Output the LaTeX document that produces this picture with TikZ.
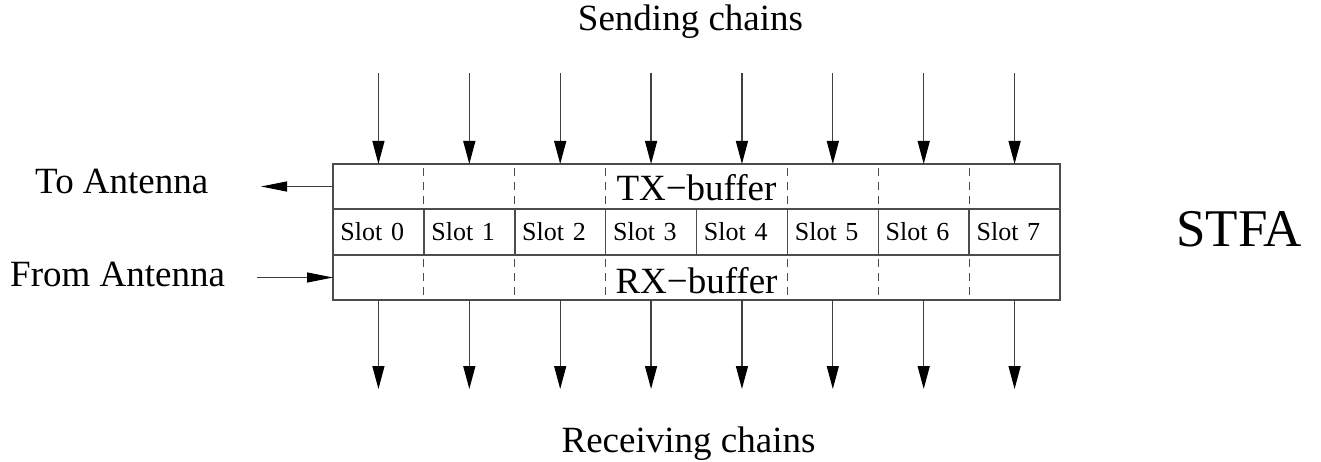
\documentclass[tikz,border=0pt]{standalone}
\usepackage{fontspec}
\setmainfont{Liberation Serif}
\usetikzlibrary{arrows.meta}
\begin{document}
\begin{tikzpicture}[x=1pt,y=-1pt,
  boxline/.style={draw=black!70,line width=1.5pt},
  cell/.style={boxline,minimum width=90.875pt,minimum height=45pt,inner sep=0pt,outer sep=0pt},
  slotcell/.style={cell,text width=76pt,align=left,inner xsep=7pt,font=\fontsize{26}{28}\selectfont},
  dashline/.style={draw=black!70,line width=1.2pt,dash pattern=on 8pt off 6pt,dash phase=-4pt},
  chain/.style={draw=black!75,line width=1.3pt,-{Triangle[length=23pt,width=12pt,black]}},
  ant/.style={draw=black!75,line width=1.3pt,-{Triangle[length=26pt,width=10pt,black]}},
  lbl/.style={inner sep=0pt,font=\fontsize{37}{40}\selectfont}]
\useasboundingbox (0,0) rectangle (1321,462);
% buffers
\node[cell,minimum width=727pt] (tx) at (696.5,186.5) {};
\node[cell,minimum width=727pt] (rx) at (696.5,277.5) {};
\foreach \i in {0,...,7}{
  \node[slotcell] (slot\i) at ({333+90.875*(\i+0.5)},232) {Slot \i};
}
% dashed separators
\foreach \i in {1,2,3,5,6,7}{
  \draw[dashline] (slot\i.west |- tx.north) -- (slot\i.west |- tx.south);
  \draw[dashline] (slot\i.west |- rx.north) -- (slot\i.west |- rx.south);
}
\node[lbl,anchor=base] (txt) at (696.5,201) {TX−buffer};
\node[lbl,anchor=base] (rxt) at (696.5,293) {RX−buffer};
% chains
\foreach \i in {0,...,7}{
  \coordinate (in\i) at ({333+90.875*(\i+0.5)},73);
  \coordinate (out\i) at ({333+90.875*(\i+0.5)},389);
  \draw[chain] (in\i) -- (in\i |- tx.north);
  \draw[chain] (out\i |- rx.south) -- (out\i);
}
% antenna
\coordinate (toant) at (261,186.5);
\coordinate (fromant) at (257,277.5);
\draw[ant] (tx.west) -- (toant);
\draw[ant] (fromant) -- (rx.west);
% labels
\node[lbl,anchor=base west] (tolbl) at (35,194) {To Antenna};
\node[lbl,anchor=base west] (fromlbl) at (10,286) {From Antenna};
\node[lbl,anchor=base] (send) at (690.5,31) {Sending chains};
\node[lbl,anchor=base] (recv) at (688.5,452) {Receiving chains};
\node[inner sep=0pt,anchor=base,font=\fontsize{53}{56}\selectfont] (stfa) at (1239,247) {STFA};
\end{tikzpicture}
\end{document}
